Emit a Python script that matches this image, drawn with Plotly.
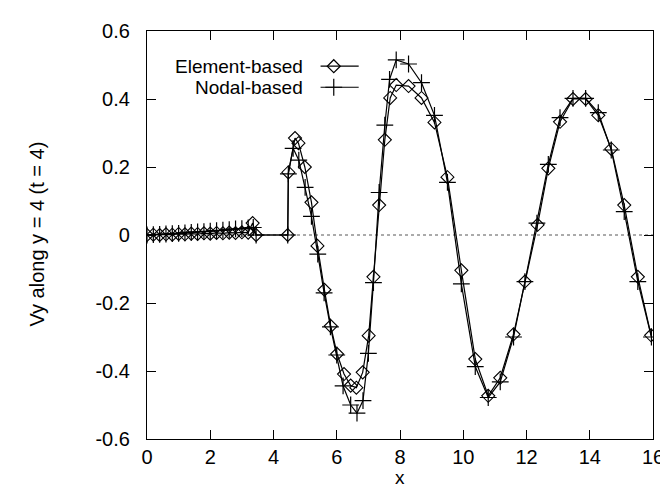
import plotly.graph_objects as go

# ---- data ----
elem_x = [0.0, 0.2, 0.4, 0.6, 0.8, 1.0, 1.2, 1.4, 1.6, 1.8, 2.0, 2.2, 2.4, 2.6, 2.8, 3.0, 3.2,
          3.34, 3.45, 4.45, 4.47, 4.68, 4.79, 4.99, 5.2, 5.39, 5.61, 5.81, 6.01, 6.23, 6.44,
          6.62, 6.82, 7.01, 7.16, 7.34, 7.52, 7.69, 7.88, 8.27, 8.68, 9.09, 9.5, 9.94, 10.38,
          10.79, 11.17, 11.59, 11.95, 12.35, 12.69, 13.06, 13.47, 13.87, 14.27, 14.68, 15.09,
          15.52, 15.94]
elem_y = [0.0, 0.001, 0.0, 0.002, 0.001, 0.003, 0.002, 0.004, 0.003, 0.005, 0.004, 0.006, 0.005,
          0.007, 0.006, 0.008, 0.007,
          0.035, 0.0, 0.0, 0.184, 0.285, 0.27, 0.2, 0.096, -0.032, -0.161, -0.268, -0.35, -0.409,
          -0.443, -0.449, -0.404, -0.296, -0.123, 0.088, 0.28, 0.403, 0.441, 0.438, 0.403, 0.331,
          0.17, -0.104, -0.365, -0.473, -0.42, -0.292, -0.137, 0.03, 0.196, 0.333, 0.4, 0.4,
          0.352, 0.253, 0.088, -0.123, -0.295]

nodal_x = [0.0, 0.2, 0.4, 0.6, 0.8, 1.0, 1.2, 1.4, 1.6, 1.8, 2.0, 2.2, 2.4, 2.6, 2.8, 3.0, 3.2,
           3.36, 3.45, 4.45, 4.47, 4.62, 4.8, 5.0, 5.2, 5.4, 5.6, 5.8, 6.0, 6.2, 6.44, 6.64, 6.83,
           7.0, 7.16, 7.34, 7.52, 7.67, 7.88, 8.27, 8.68, 9.09, 9.5, 9.94, 10.38, 10.79, 11.17,
           11.59, 11.95, 12.33, 12.69, 13.06, 13.47, 13.87, 14.27, 14.68, 15.09, 15.52, 15.95]
nodal_y = [0.0, 0.001, 0.002, 0.003, 0.004, 0.005, 0.006, 0.008, 0.009, 0.010, 0.011, 0.013,
           0.014, 0.016, 0.018, 0.019, 0.021, 0.022, 0.0, 0.0, 0.18, 0.255, 0.22, 0.14, 0.055,
           -0.056, -0.17, -0.27, -0.353, -0.444, -0.50, -0.524, -0.487, -0.348, -0.14, 0.125,
           0.323, 0.458, 0.515, 0.503, 0.448, 0.352, 0.155, -0.144, -0.387, -0.478, -0.432, -0.3,
           -0.137, 0.035, 0.208, 0.345, 0.402, 0.402, 0.36, 0.25, 0.069, -0.137, -0.3]

x_ticks = [0, 2, 4, 6, 8, 10, 12, 14, 16]
y_ticks = [-0.6, -0.4, -0.2, 0, 0.2, 0.4, 0.6]
y_tick_text = ["-0.6", "-0.4", "-0.2", "0", "0.2", "0.4", "0.6"]
series_names = ["Element-based", "Nodal-based"]

FONT = "Liberation Sans, Arial, sans-serif"
W, H = 668, 487
L, R, T, B = 138.5, 12, 14, 56
pw, ph = W - L - R, H - T - B

fig = go.Figure()

fig.add_trace(go.Scatter(
    x=elem_x, y=elem_y, mode="lines+markers", name=series_names[0], showlegend=False,
    line=dict(color="black", width=1.2),
    marker=dict(symbol="diamond-open", size=10, color="black", line=dict(width=1.1, color="black")),
))
fig.add_trace(go.Scatter(
    x=nodal_x, y=nodal_y, mode="lines+markers", name=series_names[1], showlegend=False,
    line=dict(color="black", width=1.2),
    marker=dict(symbol="cross-thin-open", size=12, color="black", line=dict(width=1.2, color="black")),
))

# legend samples drawn on an overlay axis (0..1 paper-like), gnuplot style: text then sample
def px_to_paper_x(px):
    return (px - L) / pw

def px_to_paper_y(py):
    return (H - B - py) / ph

leg_rows = [(50, "diamond-open", 10), (71.5, "cross-thin-open", 12)]
for (py, sym, sz), name in zip(leg_rows, series_names):
    yy = px_to_paper_y(py)
    fig.add_trace(go.Scatter(
        x=[px_to_paper_x(316), px_to_paper_x(355)], y=[yy, yy], mode="lines",
        line=dict(color="black", width=1.2), xaxis="x2", yaxis="y2", showlegend=False,
        hoverinfo="skip"))
    fig.add_trace(go.Scatter(
        x=[px_to_paper_x(329.5)], y=[yy], mode="markers",
        marker=dict(symbol=sym, size=sz, color="black", line=dict(width=1.2, color="black")),
        xaxis="x2", yaxis="y2", showlegend=False, hoverinfo="skip"))
    fig.add_annotation(x=px_to_paper_x(300), y=yy, xref="paper", yref="paper",
                       text=name, showarrow=False, xanchor="right", yanchor="middle",
                       font=dict(family=FONT, size=19, color="black"))

# dotted zero axis
fig.add_shape(type="line", xref="x", yref="y", x0=x_ticks[0], x1=x_ticks[-1], y0=0, y1=0,
              line=dict(color="#444444", width=0.9, dash="dot"), layer="below")

axis_common = dict(showgrid=False, zeroline=False, showline=True, linecolor="black",
                   linewidth=1.3, mirror="ticks", ticks="inside", ticklen=9,
                   tickcolor="black", tickwidth=1.2,
                   tickfont=dict(family=FONT, size=20, color="black"))

fig.update_layout(
    width=W, height=H,
    margin=dict(l=L, r=R, t=T, b=B),
    plot_bgcolor="white", paper_bgcolor="white",
    xaxis=dict(range=[0, 16], tickvals=x_ticks, ticklabelstandoff=0, **axis_common),
    yaxis=dict(range=[-0.6, 0.6], tickvals=y_ticks, ticktext=y_tick_text,
               ticklabelstandoff=12, **axis_common),
    xaxis2=dict(range=[0, 1], overlaying="x", visible=False),
    yaxis2=dict(range=[0, 1], overlaying="y", visible=False),
    showlegend=False,
)

fig.add_annotation(x=px_to_paper_x(25), y=px_to_paper_y(222), xref="paper", yref="paper",
                   text="Vy along y = 4 (t = 4)", textangle=-90, showarrow=False,
                   xanchor="center", yanchor="middle",
                   font=dict(family=FONT, size=20, color="black"))
fig.add_annotation(x=px_to_paper_x(397), y=px_to_paper_y(482), xref="paper", yref="paper",
                   text="x", showarrow=False, xanchor="center", yanchor="bottom", borderpad=0,
                   font=dict(family=FONT, size=19, color="black"))

fig.write_html("out.html")
